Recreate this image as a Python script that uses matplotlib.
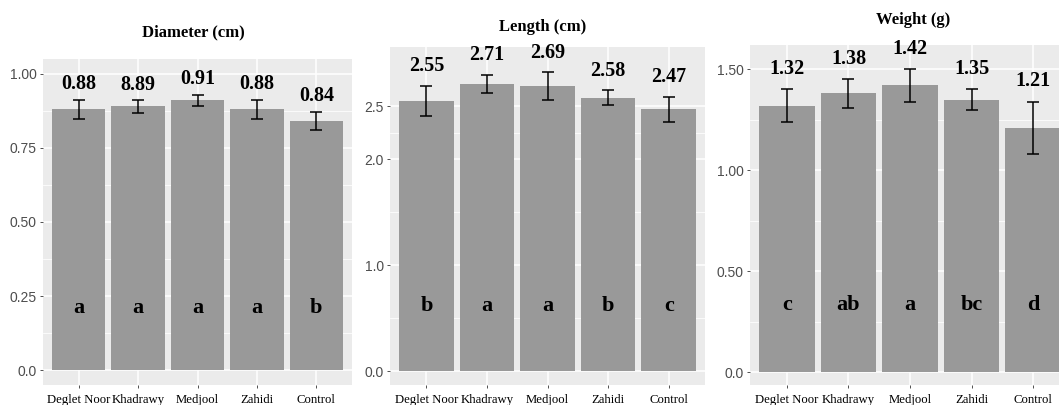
import numpy as np
import matplotlib.pyplot as plt
from matplotlib.ticker import FixedLocator

# Cultivars on the x axis
cultivars = ['Deglet Noor', 'Khadrawy', 'Medjool', 'Zahidi', 'Control']

# Diameter (cm)
diam_mean = [0.88, 0.89, 0.91, 0.88, 0.84]
diam_err = [0.033, 0.021, 0.020, 0.033, 0.031]
diam_text = ['0.88', '8.89', '0.91', '0.88', '0.84']
diam_letters = ['a', 'a', 'a', 'a', 'b']

# Length (cm)
len_mean = [2.55, 2.71, 2.69, 2.58, 2.47]
len_err = [0.14, 0.085, 0.13, 0.07, 0.12]
len_text = ['2.55', '2.71', '2.69', '2.58', '2.47']
len_letters = ['b', 'a', 'a', 'b', 'c']

# Weight (g)
wt_mean = [1.32, 1.38, 1.42, 1.35, 1.21]
wt_err = [0.08, 0.07, 0.08, 0.05, 0.13]
wt_text = ['1.32', '1.38', '1.42', '1.35', '1.21']
wt_letters = ['c', 'ab', 'a', 'bc', 'd']

diam_ticks = [0.0, 0.25, 0.5, 0.75, 1.0]
diam_ticklabels = ['0.0', '0.25', '0.50', '0.75', '1.00']
len_ticks = [0.0, 1.0, 2.0, 2.5]
len_ticklabels = ['0.0', '1.0', '2.0', '2.5']
wt_ticks = [0.0, 0.5, 1.0, 1.5]
wt_ticklabels = ['0.0', '0.50', '1.00', '1.50']

serif = 'Liberation Serif'
sans = 'Liberation Sans'

fig = plt.figure(figsize=(10.59, 4.05), dpi=100)


def draw_panel(rect, means, errs, texts, letters, ticks, ticklabels, ylim, gap):
    ax = fig.add_axes(rect)
    ax.set_facecolor('#EBEBEB')
    x = np.arange(1, len(cultivars) + 1)

    # grid: major at ticks, minor halfway between
    minor = [(a + b) / 2 for a, b in zip(ticks[:-1], ticks[1:])]
    ax.yaxis.set_major_locator(FixedLocator(ticks))
    ax.yaxis.set_minor_locator(FixedLocator(minor))
    ax.set_yticklabels(ticklabels)
    ax.grid(which='major', color='white', linewidth=1.1)
    ax.grid(which='minor', axis='y', color='white', linewidth=0.55)
    ax.set_axisbelow(True)

    ax.bar(x, means, width=0.9, color='#999999', zorder=2)
    ax.errorbar(x, means, yerr=errs, fmt='none', ecolor='black',
                elinewidth=1.1, capsize=4, capthick=1.1, zorder=3)

    for xi, m, e, t in zip(x, means, errs, texts):
        ax.annotate(t, (xi, m + e), xytext=(0, gap), textcoords='offset points',
                    ha='center', va='bottom', fontsize=14.5,
                    fontweight='bold', family=serif)
    for xi, l in zip(x, letters):
        ax.text(xi, 0.22, l, transform=ax.get_xaxis_transform(),
                ha='center', va='baseline', fontsize=16,
                fontweight='bold', family=serif)

    ax.set_xticks(x)
    ax.set_xticklabels(cultivars, family=serif, fontsize=9.2, color='black')
    for lab in ax.get_yticklabels():
        lab.set_family(sans)
        lab.set_fontsize(10)
        lab.set_color('#4D4D4D')
    ax.tick_params(which='major', length=2.5, width=0.6, color='#333333', pad=2)
    ax.tick_params(axis='x', which='major', pad=4)
    ax.tick_params(which='minor', length=0)
    ax.set_xlim(0.4, 5.6)
    ax.set_ylim(*ylim)
    for s in ax.spines.values():
        s.set_visible(False)
    return ax


draw_panel([0.0406, 0.0494, 0.2918, 0.805], diam_mean, diam_err, diam_text,
           diam_letters, diam_ticks, diam_ticklabels, (-0.05, 1.05), 4)
draw_panel([0.3683, 0.0494, 0.2975, 0.8346], len_mean, len_err, len_text,
           len_letters, len_ticks, len_ticklabels, (-0.13, 3.06), 7)
draw_panel([0.7082, 0.0494, 0.3022, 0.8395], wt_mean, wt_err, wt_text,
           wt_letters, wt_ticks, wt_ticklabels, (-0.064, 1.62), 7.5)

# panel titles
fig.text(193 / 1059, 1 - 32 / 405, 'Diameter (cm)', ha='center', va='center',
         fontsize=12, fontweight='bold', family=serif)
fig.text(543 / 1059, 1 - 27 / 405, 'Length (cm)', ha='center', va='center',
         fontsize=12, fontweight='bold', family=serif)
fig.text(913 / 1059, 1 - 20 / 405, 'Weight (g)', ha='center', va='center',
         fontsize=12, fontweight='bold', family=serif)

fig.savefig('out.png', dpi=100)
